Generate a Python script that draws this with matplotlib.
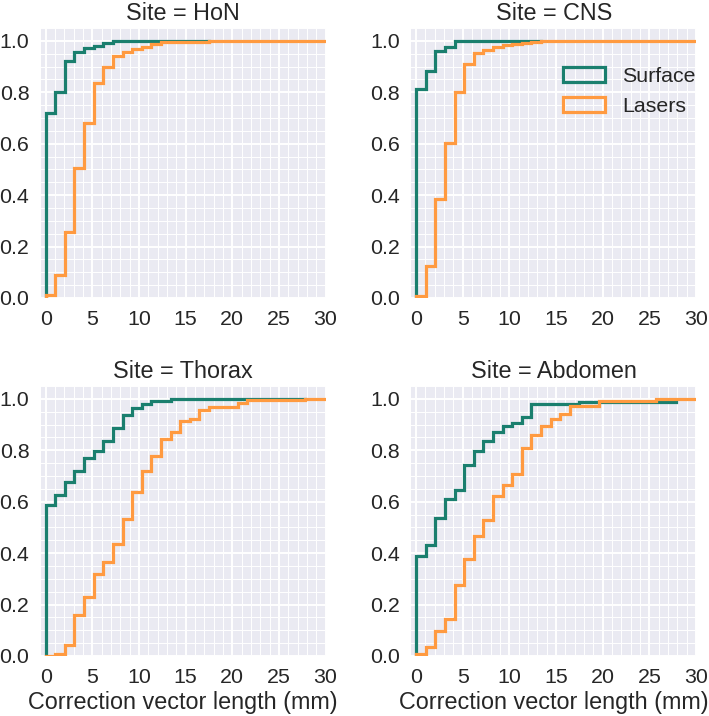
import numpy as np
import matplotlib
matplotlib.use("Agg")
import matplotlib.pyplot as plt
from matplotlib.patches import Patch
from matplotlib.ticker import MultipleLocator

# cumulative fraction per bin (bin width ~1.03 mm)
sites = ["HoN", "CNS", "Thorax", "Abdomen"]

hon_surface = [0.721, 0.803, 0.920, 0.956, 0.971, 0.980, 0.992, 1.0, 1.0, 1.0,
               1.0, 1.0, 1.0, 1.0, 1.0, 1.0, 1.0]
hon_lasers = [0.012, 0.090, 0.258, 0.506, 0.679, 0.838, 0.897, 0.943, 0.956, 0.967,
              0.975, 0.988, 0.994, 0.997, 0.997, 0.997, 0.997, 1.0, 1.0, 1.0,
              1.0, 1.0, 1.0, 1.0, 1.0, 1.0, 1.0, 1.0, 1.0, 1.0]

cns_surface = [0.812, 0.884, 0.960, 0.978, 1.0, 1.0, 1.0, 1.0, 1.0, 1.0,
               1.0, 1.0, 1.0]
cns_lasers = [0.008, 0.125, 0.386, 0.604, 0.803, 0.910, 0.953, 0.966, 0.975, 0.983,
              0.988, 0.992, 0.996, 1.0, 1.0, 1.0, 1.0, 1.0, 1.0, 1.0,
              1.0, 1.0, 1.0, 1.0, 1.0, 1.0, 1.0, 1.0, 1.0, 1.0]

thorax_surface = [0.586, 0.627, 0.677, 0.718, 0.770, 0.796, 0.835, 0.887, 0.939, 0.965,
                  0.981, 0.991, 0.991, 1.0, 1.0, 1.0, 1.0, 1.0, 1.0, 1.0,
                  1.0, 1.0, 1.0, 1.0, 1.0, 1.0, 1.0]
thorax_lasers = [0.0, 0.008, 0.043, 0.160, 0.229, 0.318, 0.365, 0.435, 0.534, 0.639,
                 0.718, 0.777, 0.844, 0.870, 0.913, 0.923, 0.958, 0.968, 0.968, 0.968,
                 0.983, 0.996, 0.996, 0.996, 0.996, 0.996, 0.996, 1.0, 1.0, 1.0]

abdomen_surface = [0.387, 0.430, 0.536, 0.610, 0.647, 0.744, 0.796, 0.835, 0.870, 0.894,
                   0.906, 0.930, 0.981, 0.981, 0.981, 0.981, 0.981, 0.989, 0.989, 0.989,
                   0.989, 0.989, 0.989, 0.989, 0.989, 0.989, 0.989]
abdomen_lasers = [0.008, 0.034, 0.099, 0.143, 0.277, 0.377, 0.465, 0.530, 0.621, 0.664,
                  0.708, 0.809, 0.861, 0.894, 0.920, 0.943, 0.971, 0.971, 0.971, 0.991,
                  0.991, 0.991, 0.991, 0.991, 0.991, 1.0, 1.0, 1.0, 1.0, 1.0]

surface = [hon_surface, cns_surface, thorax_surface, abdomen_surface]
lasers = [hon_lasers, cns_lasers, thorax_lasers, abdomen_lasers]

bin_width = 1.03
c_surface = "#1a7f6e"
c_lasers = "#ff9a40"
text_c = "#262626"

plt.rcParams["font.family"] = ["Liberation Sans", "DejaVu Sans"]
plt.rcParams["text.color"] = text_c
plt.rcParams["axes.labelcolor"] = text_c
plt.rcParams["xtick.color"] = text_c
plt.rcParams["ytick.color"] = text_c


def step_cdf(ax, heights, color):
    h = np.asarray(heights)
    edges = np.arange(len(h) + 1) * bin_width
    x = np.concatenate([[edges[0]], edges])
    y = np.concatenate([[0.0], h, [h[-1]]])
    ax.plot(x, y, drawstyle="steps-post", color=color, lw=2.3,
            solid_joinstyle="miter")


fig, axes = plt.subplots(2, 2, figsize=(7.09, 7.16), dpi=100)
fig.subplots_adjust(left=0.0578, right=0.9817, top=0.9609, bottom=0.0838,
                    wspace=0.302, hspace=0.326)

for ax, site, s, l in zip(axes.flat, sites, surface, lasers):
    ax.set_facecolor("#EAEAF2")
    for sp in ax.spines.values():
        sp.set_visible(False)
    ax.xaxis.set_major_locator(MultipleLocator(5))
    ax.xaxis.set_minor_locator(MultipleLocator(1))
    ax.yaxis.set_major_locator(MultipleLocator(0.2))
    ax.yaxis.set_minor_locator(MultipleLocator(0.05))
    ax.grid(which="major", color="white", lw=1.4)
    ax.grid(which="minor", color="white", lw=0.7)
    ax.set_axisbelow(True)
    ax.tick_params(which="both", length=0, labelsize=15.4, pad=8.4)

    step_cdf(ax, s, c_surface)
    step_cdf(ax, l, c_lasers)

    ax.set_xlim(-0.5, 30)
    ax.set_ylim(0, 1.05)
    ax.set_title(f"Site = {site}", fontsize=16.8)

for ax in axes[1]:
    ax.set_xlabel("Correction vector length (mm)", fontsize=16.8, labelpad=3)

handles = [Patch(facecolor="none", edgecolor=c_surface, lw=2.3, label="Surface"),
           Patch(facecolor="none", edgecolor=c_lasers, lw=2.3, label="Lasers")]
axes[0, 1].legend(handles=handles, loc="upper right", bbox_to_anchor=(1.03, 0.888),
                  borderaxespad=0, frameon=False, fontsize=15.4,
                  labelspacing=0.53)

fig.savefig("out.png", dpi=100)
